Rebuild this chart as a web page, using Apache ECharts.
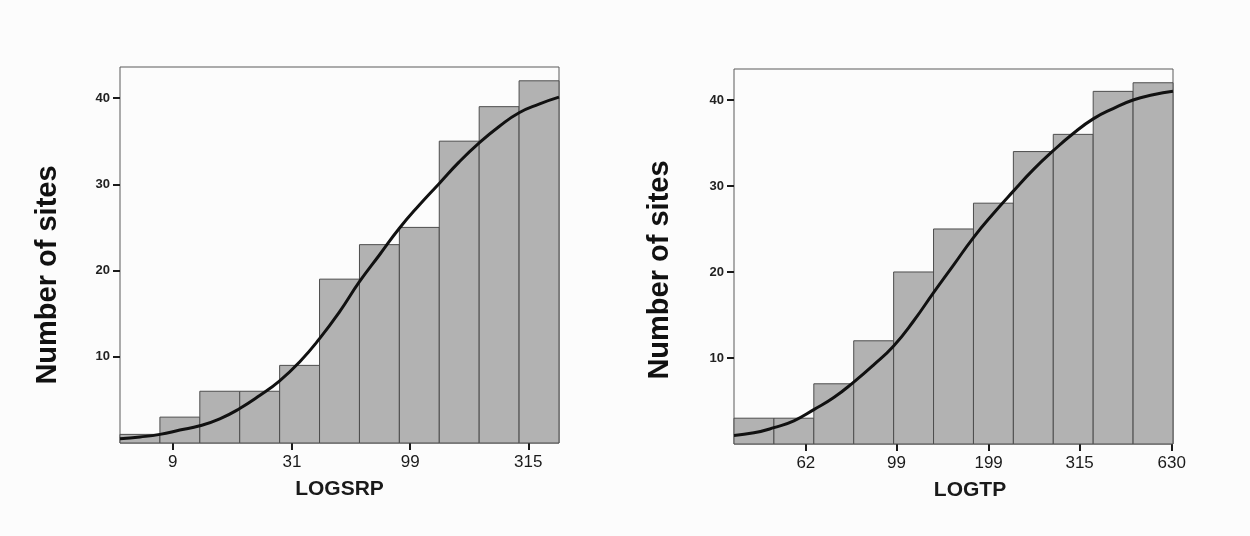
<!DOCTYPE html>
<html>
<head>
<meta charset="utf-8">
<script src="https://cdn.jsdelivr.net/npm/echarts@6/dist/echarts.min.js"></script>
<style>
html,body{margin:0;padding:0;background:#fcfcfc;}
#main{width:1250px;height:536px;}
</style>
</head>
<body>
<div id="main"></div>
<script>
// ---- data ----
const leftCounts = [1, 3, 6, 6, 9, 19, 23, 25, 35, 39, 42];
const leftCurveX = [0, 0.5, 1, 1.5, 2, 2.5, 3, 3.5, 4, 4.5, 5, 5.5, 6, 6.5, 7, 7.5, 8, 8.5, 9, 9.5, 10, 10.5, 11];
const leftCurveY = [0.5, 0.7, 1.0, 1.5, 2.0, 2.8, 4.0, 5.5, 7.2, 9.4, 12.1, 15.2, 18.7, 21.8, 24.9, 27.6, 30.1, 32.6, 34.8, 36.7, 38.3, 39.3, 40.1];
const leftTickPos = [1.32, 4.31, 7.27, 10.23];
const leftTickLabels = ['9', '31', '99', '315'];
const leftName = 'LOGSRP';

const rightCounts = [3, 3, 7, 12, 20, 25, 28, 34, 36, 41, 42];
const rightCurveX = [0, 0.5, 1, 1.5, 2, 2.5, 3, 3.5, 4, 4.5, 5, 5.5, 6, 6.5, 7, 7.5, 8, 8.5, 9, 9.5, 10, 10.5, 11];
const rightCurveY = [1.0, 1.3, 1.9, 2.7, 4.0, 5.4, 7.2, 9.2, 11.4, 14.3, 17.6, 20.8, 24.0, 26.8, 29.4, 31.9, 34.1, 36.1, 37.8, 39.0, 40.0, 40.6, 41.0];
const rightTickPos = [1.80, 4.07, 6.38, 8.66, 10.97];
const rightTickLabels = ['62', '99', '199', '315', '630'];
const rightName = 'LOGTP';

const yTicks = [10, 20, 30, 40];
const yTitle = 'Number of sites';
const binCount = 11;
const yMax = 43.6;

const FONT = '"Liberation Sans", Arial, Helvetica, sans-serif';

function renderBar(params, api) {
  const i = api.value(0), v = api.value(1);
  const p0 = api.coord([i, 0]);
  const p1 = api.coord([i + 1, v]);
  return {
    type: 'rect',
    shape: { x: p0[0], y: p1[1], width: p1[0] - p0[0], height: p0[1] - p1[1] },
    style: { fill: '#b2b2b2', stroke: '#4d4d4d', lineWidth: 1 }
  };
}

function makeXAxis(idx, pos, labels, name, namePad) {
  return {
    type: 'value', gridIndex: idx, min: 0, max: binCount,
    axisLine: { show: false },
    splitLine: { show: false },
    axisTick: { show: true, customValues: pos, length: 7, lineStyle: { color: '#1a1a1a', width: 2 } },
    axisLabel: {
      customValues: pos, margin: 11, fontSize: 17, color: '#1a1a1a', fontFamily: FONT,
      formatter: function (v) {
        let best = 0;
        for (let k = 1; k < pos.length; k++) if (Math.abs(pos[k] - v) < Math.abs(pos[best] - v)) best = k;
        return labels[best];
      }
    },
    name: name, nameLocation: 'middle', nameGap: 36,
    nameTextStyle: { fontSize: 21, fontWeight: 'bold', color: '#1a1a1a', fontFamily: FONT, padding: namePad }
  };
}

function makeYAxis(idx) {
  return {
    type: 'value', gridIndex: idx, min: 0, max: yMax, interval: 10,
    axisLine: { show: false },
    splitLine: { show: false },
    axisTick: { show: true, customValues: yTicks, length: 7, lineStyle: { color: '#1a1a1a', width: 2 } },
    axisLabel: { customValues: yTicks, margin: 10, fontSize: 13, fontWeight: 'bold', color: '#222', fontFamily: FONT }
  };
}

const chart = echarts.init(document.getElementById('main'));
chart.setOption({
  backgroundColor: '#fcfcfc',
  animation: false,
  grid: [
    { left: 120, width: 439, top: 67, height: 376, show: true, borderColor: '#5a5a5a', borderWidth: 1, backgroundColor: 'transparent' },
    { left: 734, width: 439, top: 69, height: 375, show: true, borderColor: '#5a5a5a', borderWidth: 1, backgroundColor: 'transparent' }
  ],
  xAxis: [
    makeXAxis(0, leftTickPos, leftTickLabels, leftName, [0, 0, 0, 0]),
    makeXAxis(1, rightTickPos, rightTickLabels, rightName, [0, 0, 0, 33])
  ],
  yAxis: [makeYAxis(0), makeYAxis(1)],
  graphic: [
    { type: 'text', x: 48, y: 275, rotation: Math.PI / 2,
      style: { text: yTitle, font: 'bold 29px ' + FONT, fill: '#111', textAlign: 'center', textVerticalAlign: 'middle' } },
    { type: 'text', x: 660, y: 270, rotation: Math.PI / 2,
      style: { text: yTitle, font: 'bold 29px ' + FONT, fill: '#111', textAlign: 'center', textVerticalAlign: 'middle' } }
  ],
  series: [
    { type: 'custom', xAxisIndex: 0, yAxisIndex: 0, renderItem: renderBar,
      data: leftCounts.map((c, i) => [i, c]), encode: { x: 0, y: 1 }, z: 2 },
    { type: 'line', xAxisIndex: 0, yAxisIndex: 0, smooth: 0.5, symbol: 'none',
      lineStyle: { color: '#111', width: 3 }, data: leftCurveX.map((x, i) => [x, leftCurveY[i]]), z: 3 },
    { type: 'custom', xAxisIndex: 1, yAxisIndex: 1, renderItem: renderBar,
      data: rightCounts.map((c, i) => [i, c]), encode: { x: 0, y: 1 }, z: 2 },
    { type: 'line', xAxisIndex: 1, yAxisIndex: 1, smooth: 0.5, symbol: 'none',
      lineStyle: { color: '#111', width: 3 }, data: rightCurveX.map((x, i) => [x, rightCurveY[i]]), z: 3 }
  ]
});
</script>
</body>
</html>
